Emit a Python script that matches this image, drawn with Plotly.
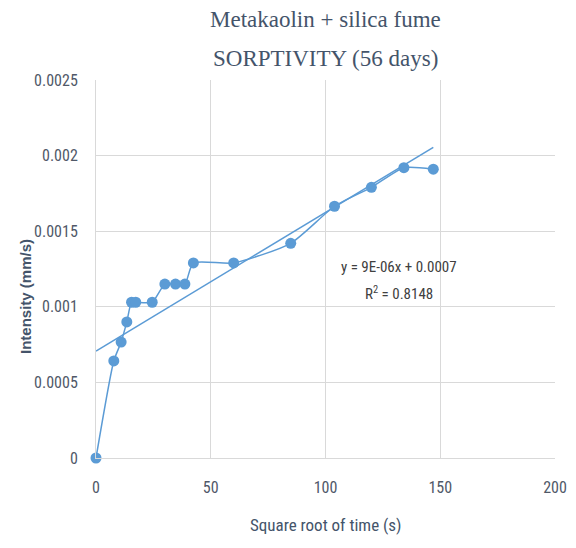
import numpy as np
import plotly.graph_objects as go

# Data
sqrt_time = [0, 7.75, 10.95, 13.42, 15.49, 17.32, 24.49, 30.0, 34.64, 38.73,
             42.43, 60.0, 84.85, 103.92, 120.0, 134.16, 146.97]
intensity = [0, 0.000642, 0.000767, 0.000900, 0.001030, 0.001030, 0.001030,
             0.001150, 0.001150, 0.001150, 0.001290, 0.001290, 0.001420,
             0.001665, 0.001790, 0.001920, 0.001910]
x_ticks = [0, 50, 100, 150, 200]
y_ticks = [0, 0.0005, 0.001, 0.0015, 0.002, 0.0025]
y_tick_labels = ["0", "0.0005", "0.001", "0.0015", "0.002", "0.0025"]
title_lines = ["Metakaolin + silica fume", "SORPTIVITY (56 days)"]
equation_text = "y = 9E-06x + 0.0007"
r2_text = "R<sup>2</sup> = 0.8148"

slope, intercept = np.polyfit(sqrt_time, intensity, 1)
trend_x = [sqrt_time[0], sqrt_time[-1]]
trend_y = [slope * v + intercept for v in trend_x]

blue = "#5B9BD5"
slate = "#44546A"
tick_col = "#505868"
narrow = "Liberation Sans Narrow, Arial Narrow, Roboto Condensed, Roboto, sans-serif"
serif = "Liberation Serif, DejaVu Serif, serif"

# page body has an 8px default margin; compensate so the chart lands where intended
OFF = 8
W, H = 576 - OFF, 548 - OFF
L, T = 96 - OFF, 80 - OFF
R = W - (555 - OFF)
B = H - (458 - OFF)
plot_w = W - L - R
plot_h = H - T - B


def px_x(px):
    return (px - OFF - L) / plot_w


def px_y(py):
    return (H - B - (py - OFF)) / plot_h


fig = go.Figure()
fig.add_trace(go.Scatter(
    x=trend_x, y=trend_y, mode="lines",
    line=dict(color=blue, width=1.5), hoverinfo="skip", showlegend=False))
fig.add_trace(go.Scatter(
    x=sqrt_time, y=intensity, mode="lines+markers", cliponaxis=False,
    line=dict(color=blue, width=1.5, shape="spline", smoothing=0.6),
    marker=dict(color=blue, size=11), showlegend=False))

annotations = [
    dict(text=title_lines[0], x=0.5, y=px_y(20), xref="paper", yref="paper",
         xanchor="center", yanchor="middle", showarrow=False,
         font=dict(family=serif, size=23, color=slate)),
    dict(text=title_lines[1], x=0.5, y=px_y(58), xref="paper", yref="paper",
         xanchor="center", yanchor="middle", showarrow=False,
         font=dict(family=serif, size=23, color=slate)),
    dict(text=equation_text, x=132, y=0.00126, xref="x", yref="y",
         showarrow=False, font=dict(family=narrow, size=15, color="#404040")),
    dict(text=r2_text, x=132, y=0.00109, xref="x", yref="y",
         showarrow=False, font=dict(family=narrow, size=15, color="#404040")),
    dict(text="<b>Intensity (mm/s)</b>", x=px_x(25), y=px_y(297),
         xref="paper", yref="paper", xanchor="center", yanchor="middle",
         showarrow=False, textangle=-90,
         font=dict(family="Liberation Sans, Arial, sans-serif", size=15, color=slate)),
    dict(text="Square root of time (s)", x=0.5, y=px_y(525), xref="paper", yref="paper",
         xanchor="center", yanchor="middle", showarrow=False,
         font=dict(family=narrow, size=17, color=slate)),
]

fig.update_layout(
    width=W, height=H,
    margin=dict(l=L, r=R, t=T, b=B, autoexpand=False),
    paper_bgcolor="white", plot_bgcolor="white",
    xaxis=dict(
        range=[0, 200], tickvals=x_ticks, showgrid=True, gridcolor="#D9D9D9",
        gridwidth=1, zeroline=False, showline=True, linecolor="#D9D9D9",
        ticks="", automargin=False,
        tickfont=dict(family=narrow, size=16, color=tick_col),
        ticklabelstandoff=15),
    yaxis=dict(
        range=[0, 0.0025], tickvals=y_ticks, ticktext=y_tick_labels,
        showgrid=True, gridcolor="#D9D9D9", gridwidth=1, zeroline=False,
        showline=True, linecolor="#D9D9D9", ticks="", automargin=False,
        tickfont=dict(family=narrow, size=16, color=tick_col),
        ticklabelstandoff=14),
    annotations=annotations,
)

fig.write_html("out.html")
